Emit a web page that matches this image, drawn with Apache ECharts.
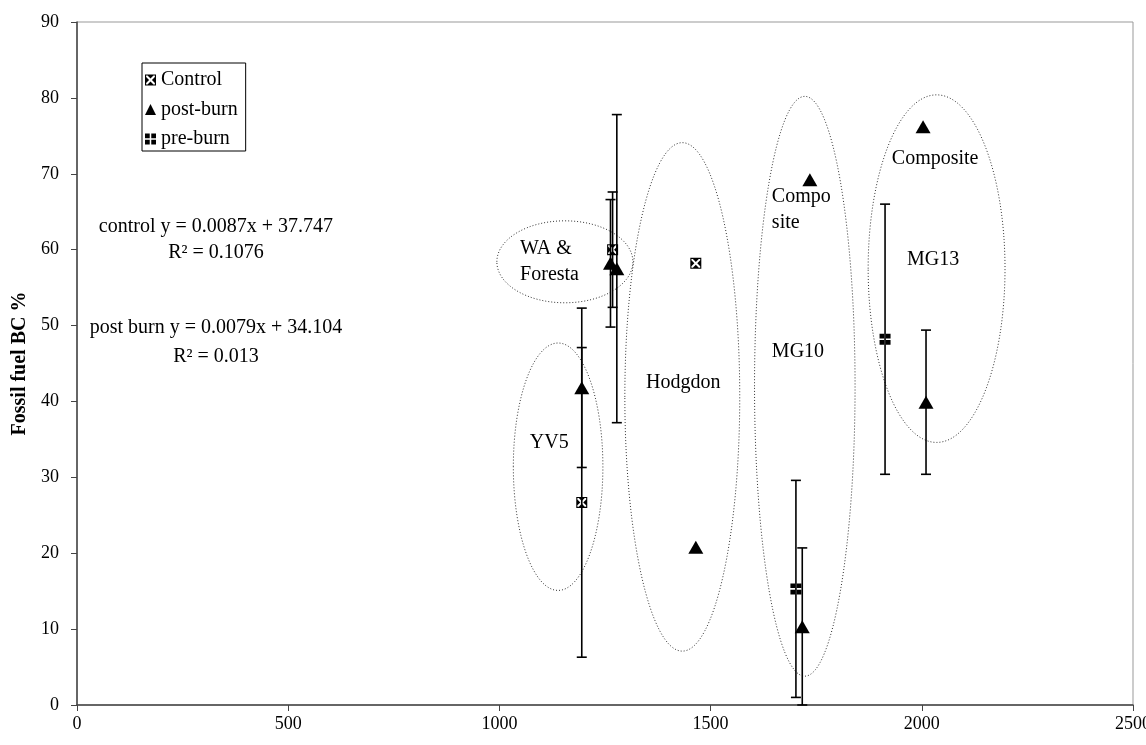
<!DOCTYPE html>
<html>
<head>
<meta charset="utf-8">
<script src="https://cdn.jsdelivr.net/npm/echarts@6/dist/echarts.min.js"></script>
<style>
html, body { margin: 0; background: #fff; }
#chart { width: 1146px; height: 745px; }
</style>
</head>
<body>
<div id="chart"></div>
<script>
// values: [x, y] and the +/- error of each point
const controlPts = [[1195, 26.7], [1268, 60.0], [1465, 58.2]];
const controlErr = [20.4, 7.6, 0];
const postBurnPts = [[1195, 41.8], [1263, 58.2], [1278, 57.5], [1465, 20.8], [1717, 10.3], [1735, 69.2], [2010, 39.9], [2003, 76.2]];
const postBurnErr = [10.5, 8.4, 20.3, 0, 10.4, 0, 9.5, 0];
const preBurnPts = [[1702, 15.3], [1913, 48.2]];
const preBurnErr = [14.3, 17.8];

const xTicks = { min: 0, max: 2500, step: 500 };
const yTicks = { min: 0, max: 90, step: 10 };

// site groupings (dotted ellipses), in data units: cx, cy, rx, ry
const siteRings = [
  [1155, 58.4, 161, 5.4],
  [1139, 31.4, 106, 16.3],
  [1433, 40.6, 136, 33.5],
  [1723, 42.0, 119, 38.2],
  [2035, 57.5, 162, 22.9]
];
const siteLabels = [
  [1049, 58.4, 'WA &\nForesta'],
  [1072, 34.5, 'YV5'],
  [1347, 42.4, 'Hodgdon'],
  [1645, 65.3, 'Compo\nsite'],
  [1645, 46.6, 'MG10'],
  [1929, 72.0, 'Composite'],
  [1965, 58.7, 'MG13']
];
const fitLabels = [
  [329, 63.0, 'control y = 0.0087x + 37.747'],
  [329, 59.6, 'R² = 0.1076'],
  [329, 49.7, 'post burn y = 0.0079x + 34.104'],
  [329, 45.9, 'R² = 0.013']
];

const FONT = '"Liberation Serif", "DejaVu Serif", serif';
const ctrlIcon = 'path://M0,0H10V10H0Z M1,1V9H9V1Z M2.3,1H7.7L5,3.7Z M9,2.3V7.7L6.3,5Z M7.7,9H2.3L5,6.3Z M1,7.7V2.3L3.7,5Z';
const preIcon = 'path://M0,0H4.3V4.3H0Z M5.7,0H10V4.3H5.7Z M0,5.7H4.3V10H0Z M5.7,5.7H10V10H5.7Z';

const errorBars = (pts, errs) => ({
  type: 'custom',
  silent: true,
  z: 2,
  data: pts.map((p, i) => [p[0], p[1], errs[i]]).filter((d) => d[2] > 0),
  encode: { x: 0, y: 1 },
  renderItem: (params, api) => {
    const x = api.value(0);
    const y = api.value(1);
    const e = api.value(2);
    const lo = api.coord([x, Math.max(0, y - e)]);
    const hi = api.coord([x, y + e]);
    const hw = 5;
    const st = { stroke: '#000', lineWidth: 1.6 };
    return {
      type: 'group',
      children: [
        { type: 'line', shape: { x1: lo[0], y1: lo[1], x2: hi[0], y2: hi[1] }, style: st },
        { type: 'line', shape: { x1: hi[0] - hw, y1: hi[1], x2: hi[0] + hw, y2: hi[1] }, style: st },
        { type: 'line', shape: { x1: lo[0] - hw, y1: lo[1], x2: lo[0] + hw, y2: lo[1] }, style: st }
      ]
    };
  }
});

const textLayer = (rows, align) => ({
  type: 'custom',
  silent: true,
  z: 3,
  data: rows.map((r) => [r[0], r[1]]),
  encode: { x: 0, y: 1 },
  renderItem: (params, api) => {
    const row = rows[params.dataIndex];
    const p = api.coord([api.value(0), api.value(1)]);
    return {
      type: 'text',
      x: p[0],
      y: p[1],
      style: {
        text: row[2],
        font: '20px ' + FONT,
        fill: '#000',
        align: align,
        verticalAlign: 'middle',
        lineHeight: 26
      }
    };
  }
});

const axisCommon = {
  type: 'value',
  splitLine: { show: false },
  axisLine: { lineStyle: { color: '#444', width: 1.5 } },
  axisTick: { length: 6, lineStyle: { color: '#444' } }
};

const chart = echarts.init(document.getElementById('chart'));
chart.setOption({
  animation: false,
  backgroundColor: '#fff',
  grid: {
    left: 77, right: 13, top: 22, bottom: 40,
    outerBoundsMode: 'none',
    containLabel: false,
    show: true, borderColor: '#999', borderWidth: 1
  },
  legend: {
    orient: 'vertical',
    left: 142,
    top: 63,
    padding: [7, 8, 2, 3],
    itemGap: 9.5,
    itemWidth: 11,
    itemHeight: 11,
    borderColor: '#000',
    borderWidth: 1,
    textStyle: { fontFamily: FONT, fontSize: 20, color: '#000' },
    data: [
      { name: 'Control', icon: ctrlIcon },
      { name: 'post-burn', icon: 'triangle' },
      { name: 'pre-burn', icon: preIcon }
    ]
  },
  xAxis: {
    ...axisCommon,
    min: xTicks.min,
    max: xTicks.max,
    interval: xTicks.step,
    axisLabel: { fontFamily: FONT, fontSize: 18, color: '#000', margin: 10, formatter: (v) => String(v) }
  },
  yAxis: {
    ...axisCommon,
    min: yTicks.min,
    max: yTicks.max,
    interval: yTicks.step,
    name: 'Fossil fuel BC %',
    nameLocation: 'middle',
    nameGap: 45,
    nameTextStyle: { fontFamily: FONT, fontSize: 20, fontWeight: 'bold', color: '#000' },
    axisLabel: { fontFamily: FONT, fontSize: 18, color: '#000', margin: 18, formatter: (v) => String(v) }
  },
  series: [
    {
      type: 'custom',
      silent: true,
      z: 1,
      data: siteRings.map((r) => [r[0], r[1]]),
      encode: { x: 0, y: 1 },
      renderItem: (params, api) => {
        const r = siteRings[params.dataIndex];
        const c = api.coord([r[0], r[1]]);
        const sz = api.size([r[2], r[3]]);
        return {
          type: 'ellipse',
          shape: { cx: c[0], cy: c[1], rx: sz[0], ry: sz[1] },
          style: { fill: null, stroke: '#333', lineWidth: 1, lineDash: [1, 2] }
        };
      }
    },
    textLayer(siteLabels, 'left'),
    textLayer(fitLabels, 'center'),
    errorBars(controlPts, controlErr),
    errorBars(postBurnPts, postBurnErr),
    errorBars(preBurnPts, preBurnErr),
    {
      name: 'Control',
      type: 'scatter',
      z: 5,
      symbol: ctrlIcon,
      symbolSize: 11,
      itemStyle: { color: '#000', opacity: 1 },
      data: controlPts
    },
    {
      name: 'post-burn',
      type: 'scatter',
      z: 5,
      symbol: 'triangle',
      symbolSize: [15, 13],
      itemStyle: { color: '#000', opacity: 1 },
      data: postBurnPts
    },
    {
      name: 'pre-burn',
      type: 'scatter',
      z: 5,
      symbol: preIcon,
      symbolSize: 11,
      itemStyle: { color: '#000', opacity: 1 },
      data: preBurnPts
    }
  ]
});
</script>
</body>
</html>
